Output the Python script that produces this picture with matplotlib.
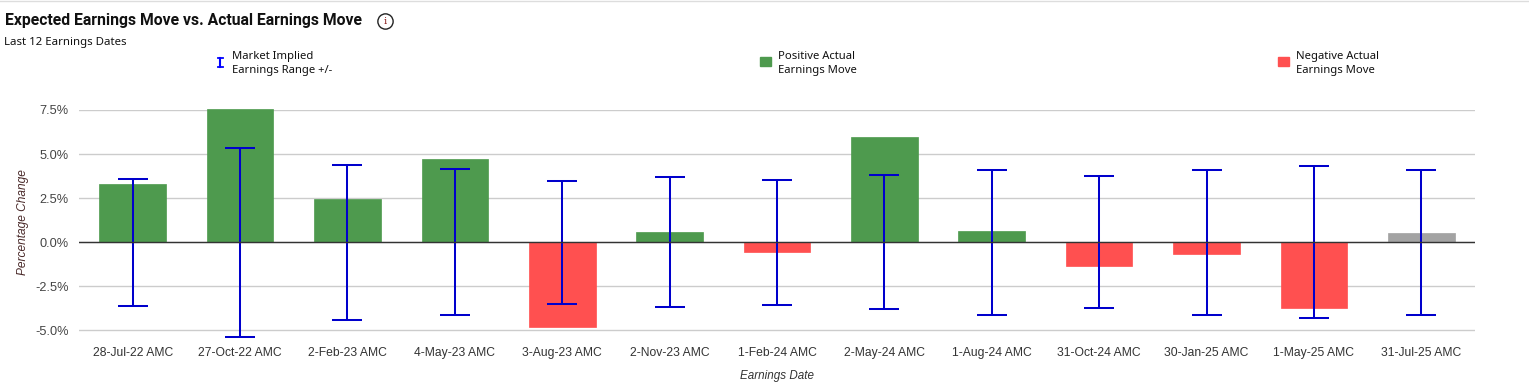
#!/usr/bin/env python3
"""
Expected earnings move vs actual earnings move
"""
import matplotlib
matplotlib.use('Agg')
import matplotlib.pyplot as plt
from matplotlib.lines import Line2D
from matplotlib.patches import Rectangle

W, H = 1529, 383

dates = ['28-Jul-22 AMC', '27-Oct-22 AMC', '2-Feb-23 AMC', '4-May-23 AMC',
         '3-Aug-23 AMC', '2-Nov-23 AMC', '1-Feb-24 AMC', '2-May-24 AMC',
         '1-Aug-24 AMC', '31-Oct-24 AMC', '30-Jan-25 AMC', '1-May-25 AMC',
         '31-Jul-25 AMC']
actual_move = [3.3, 7.55, 2.45, 4.7, -4.8, 0.6, -0.55, 5.95, 0.65, -1.35,
               -0.65, -3.75, 0.5]
implied_range = [3.6, 5.35, 4.4, 4.15, 3.5, 3.7, 3.55, 3.8, 4.1, 3.75, 4.1,
                 4.3, 4.1]
y_ticks = [-5.0, -2.5, 0.0, 2.5, 5.0, 7.5]

GREEN = '#4e9a4e'
RED = '#ff5050'
GREY = '#a3a3a3'
BLUE = '#0000cc'


def px(x, y):
    """Pixel position to figure fraction"""
    return x / W, 1 - y / H


fig = plt.figure(figsize=(W / 100, H / 100), dpi=100)
ax = fig.add_axes([79 / W, 1 - 338 / H, (1475 - 79) / W, (338 - 110) / H])

x_pos = list(range(len(dates)))
colors = [GREEN if v > 0 else RED for v in actual_move]
colors[-1] = GREY  # latest date has no confirmed move yet

ax.bar(x_pos, actual_move, width=0.62, color=colors, edgecolor=colors,
       linewidth=0.5, zorder=2, clip_on=False)
ax.errorbar(x_pos, [0] * len(dates), yerr=implied_range, fmt='none',
            ecolor=BLUE, elinewidth=1.45, capsize=10.8, capthick=1.45,
            zorder=3, clip_on=False)

ax.set_xlim(-0.5, 12.5)
ax.set_ylim(-5.43, 7.5)
ax.set_xticks(x_pos)
ax.set_xticklabels(dates, family='Liberation Sans', fontsize=8.7, color='#333333')
ax.set_yticks(y_ticks)
ax.set_yticklabels([f'{t:.1f}%' for t in y_ticks], family='Liberation Sans',
                   fontsize=9.2, color='#444444')
ax.tick_params(axis='both', length=0)
ax.tick_params(axis='x', pad=6.5)
ax.tick_params(axis='y', pad=7.5)
ax.grid(axis='y', color='#cccccc', linewidth=1, zorder=0)
ax.axhline(0, color='#333333', linewidth=1, zorder=4)
for side in ax.spines.values():
    side.set_visible(False)

fig.text(*px(777, 376), 'Earnings Date', family='Liberation Sans', style='italic',
         fontsize=8.4, color='#333333', ha='center', va='center')
fig.text(*px(23, 222), 'Percentage Change', family='Liberation Sans',
         style='italic', fontsize=8.6, color='#4a2a2a', rotation=90,
         ha='center', va='center')

# title block
fig.text(*px(5, 20), 'Expected Earnings Move vs. Actual Earnings Move',
         family='Roboto', weight='bold', fontsize=11.3, color='#111111',
         va='center')
fig.text(*px(4, 42), 'Last 12 Earnings Dates', family='Noto Sans', fontsize=8.2,
         color='#111111', va='center')

fig.add_artist(Line2D([385 / W], [1 - 21 / H], marker='o', markersize=11,
                      markerfacecolor='white', markeredgecolor='#222222',
                      markeredgewidth=1, linestyle='none',
                      transform=fig.transFigure))
fig.text(*px(385, 21), 'i', family='DejaVu Serif', fontsize=7.5,
         color='#8b1a1a', ha='center', va='center')
fig.add_artist(Line2D([0, 1], [1 - 0.5 / H] * 2, color='#dddddd', linewidth=1,
                      transform=fig.transFigure))

# legend, hand placed like the original
legend_font = dict(family='Noto Sans', fontsize=8.1, color='#111111',
                   va='center', linespacing=1.32)
fig.add_artist(Line2D([220.5 / W, 220.5 / W], [1 - 58 / H, 1 - 67 / H],
                      color='#0000ff', linewidth=1.5,
                      transform=fig.transFigure))
for y_cap in (58, 67):
    fig.add_artist(Line2D([218 / W, 223 / W], [1 - y_cap / H] * 2,
                          color='#0000ff', linewidth=1.3,
                          transform=fig.transFigure))
fig.text(*px(232, 63.5), 'Market Implied\nEarnings Range +/-', **legend_font)

fig.add_artist(Rectangle(px(760, 66), 11 / W, 9 / H, color=GREEN,
                         transform=fig.transFigure))
fig.text(*px(778, 63.5), 'Positive Actual\nEarnings Move', **legend_font)

fig.add_artist(Rectangle(px(1278, 66), 11 / W, 9 / H, color=RED,
                         transform=fig.transFigure))
fig.text(*px(1296, 63.5), 'Negative Actual\nEarnings Move', **legend_font)

fig.savefig('out.png', dpi=100)
